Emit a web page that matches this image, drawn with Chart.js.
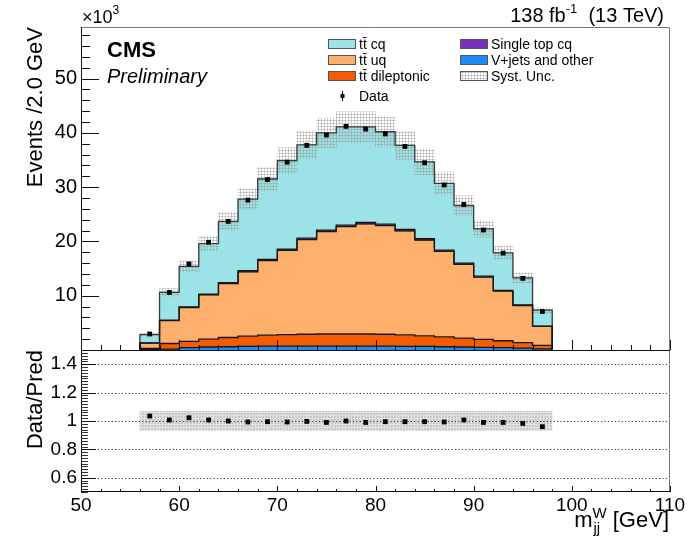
<!DOCTYPE html>
<html>
<head>
<meta charset="utf-8">
<script src="https://cdn.jsdelivr.net/npm/chart.js@4.4.1/dist/chart.umd.min.js"></script>
<style>
  html, body { margin: 0; padding: 0; background: #fff; }
  #wrap { position: relative; width: 689px; height: 540px; }
  #ratioChart { position: absolute; left: 0; top: 340px; }
  #mainChart { position: absolute; left: 0; top: 0; }
</style>
</head>
<body>
<div id="wrap">
  <canvas id="ratioChart" width="689" height="200"></canvas>
  <canvas id="mainChart" width="689" height="360"></canvas>
</div>
<script>
Chart.defaults.font.family = '"Liberation Sans", Arial, Helvetica, sans-serif';
Chart.defaults.color = '#000';

// --------------------------
// DATA (events in units of 10^3, bins of 2 GeV)
// --------------------------
const binCenters = [57, 59, 61, 63, 65, 67, 69, 71, 73, 75, 77, 79, 81, 83, 85, 87, 89, 91, 93, 95, 97];
const binWidth = 2;

const xTickVals = [50, 60, 70, 80, 90, 100, 110];
const yTickVals = [10, 20, 30, 40, 50];
const ratioTickVals = [0.6, 0.8, 1, 1.2, 1.4];

const seriesNames = ['tt\u0304 cq', 'tt\u0304 uq', 'tt\u0304 dileptonic', 'Single top cq', 'V+jets and other', 'Syst. Unc.', 'Data'];

// stack, from bottom to top
const vjets     = [0.05, 0.15, 0.45, 0.55, 0.6, 0.65, 0.7, 0.7, 0.72, 0.72, 0.72, 0.72, 0.7, 0.68, 0.65, 0.6, 0.55, 0.5, 0.42, 0.35, 0.2];
const ttDilep   = [0.25, 1.05, 1.15, 1.45, 1.7, 1.9, 2.05, 2.15, 2.18, 2.23, 2.23, 2.23, 2.2, 2.12, 1.95, 1.8, 1.65, 1.45, 1.28, 1.0, 0.65];
const ttUq      = [0.98, 4.22, 6.23, 8.15, 9.93, 11.85, 13.73, 15.51, 17.44, 18.87, 19.77, 20.27, 20.02, 19.14, 17.66, 15.78, 13.6, 11.48, 9.16, 6.85, 3.5];
const singleTop = [0.02, 0.08, 0.12, 0.15, 0.17, 0.2, 0.22, 0.24, 0.26, 0.28, 0.28, 0.28, 0.28, 0.26, 0.24, 0.22, 0.2, 0.17, 0.14, 0.1, 0.05];
const ttCq      = [1.55, 5.1, 7.45, 9.3, 11.3, 13.2, 14.8, 16.3, 17.2, 17.9, 18.1, 17.6, 17.0, 15.5, 14.15, 12.3, 10.6, 8.7, 6.9, 5.0, 2.93];

const dataVals  = [2.95, 10.6, 15.85, 19.85, 23.7, 27.6, 31.4, 34.6, 37.7, 39.6, 41.2, 40.7, 39.8, 37.5, 34.5, 30.4, 26.8, 22.1, 17.85, 13.2, 7.09];
const ratioVals = [1.035, 1.007, 1.023, 1.007, 1.0, 0.993, 0.995, 0.993, 0.997, 0.99, 1.0, 0.99, 0.995, 0.995, 0.995, 0.993, 1.007, 0.99, 0.99, 0.983, 0.96];
const systUnc   = [0.068, 0.068, 0.068, 0.068, 0.068, 0.068, 0.068, 0.068, 0.068, 0.068, 0.068, 0.068, 0.068, 0.068, 0.068, 0.068, 0.068, 0.068, 0.068, 0.068, 0.068];

// colours
const colCq = '#9be3e6';
const colUq = '#fdb06b';
const colDilep = '#f55c00';
const colSt = '#7a2fbf';
const colV = '#1a8cff';
const FONT = '"Liberation Sans", Arial, Helvetica, sans-serif';

// --------------------------
// build stack
// --------------------------
const nBins = binCenters.length;
const layers = [vjets, ttDilep, ttUq, singleTop, ttCq];
const layerColors = [colV, colDilep, colUq, colSt, colCq];
const cum = [];
let running = binCenters.map(() => 0);
layers.forEach(arr => {
  running = running.map((v, i) => v + arr[i]);
  cum.push(running);
});
const total = cum[cum.length - 1];
const lowerOf = k => (k === 0 ? binCenters.map(() => 0) : cum[k - 1]);

function floatBars(k) {
  const lo = lowerOf(k);
  return binCenters.map((x, i) => ({ x: x, y: [lo[i], cum[k][i]] }));
}

function stepOutline(tops) {
  const half = binWidth / 2;
  const pts = [{ x: binCenters[0] - half, y: 0 }];
  binCenters.forEach((x, i) => pts.push({ x: x - half, y: tops[i] }));
  pts.push({ x: binCenters[nBins - 1] + half, y: tops[nBins - 1] });
  pts.push({ x: binCenters[nBins - 1] + half, y: 0 });
  return pts;
}

function makePattern(ctx, bg, fg) {
  const c = document.createElement('canvas');
  c.width = 3; c.height = 3;
  const g = c.getContext('2d');
  if (bg) { g.fillStyle = bg; g.fillRect(0, 0, 3, 3); }
  g.fillStyle = fg;
  g.fillRect(0, 0, 3, 1);
  g.fillRect(0, 0, 1, 3);
  return ctx.createPattern(c, 'repeat');
}

const mainCtx = document.getElementById('mainChart').getContext('2d');
const ratioCtx = document.getElementById('ratioChart').getContext('2d');
const systPattern = makePattern(mainCtx, null, 'rgba(150,150,150,0.45)');
const ratioPattern = makePattern(ratioCtx, '#c9c9c9', '#e2e2e2');

// no extra label padding, so the plot areas sit exactly where we want them
function fixY(axis) {
  axis.width = 81;
  axis.paddingTop = 0;
  axis.paddingBottom = 0;
}
function fixX(axis) {
  axis.height = 48;
  axis.paddingLeft = 0;
  axis.paddingRight = 0;
}

// --------------------------
// tick helpers (ROOT style, inward)
// --------------------------
function drawYTicks(ctx, scale, left, step, len) {
  const n0 = Math.ceil(scale.min / step - 1e-6);
  const n1 = Math.floor(scale.max / step + 1e-6);
  for (let k = n0; k <= n1; k++) {
    const py = Math.round(scale.getPixelForValue(k * step)) + 0.5;
    ctx.beginPath(); ctx.moveTo(left, py); ctx.lineTo(left + len, py); ctx.stroke();
  }
}
function drawXTicks(ctx, scale, bottom, step, len) {
  const n0 = Math.ceil(scale.min / step - 1e-6);
  const n1 = Math.floor(scale.max / step + 1e-6);
  for (let k = n0; k <= n1; k++) {
    const px = Math.round(scale.getPixelForValue(k * step)) + 0.5;
    ctx.beginPath(); ctx.moveTo(px, bottom); ctx.lineTo(px, bottom - len); ctx.stroke();
  }
}

// --------------------------
// main panel
// --------------------------
const mainDecor = {
  id: 'mainDecor',
  afterDatasetsDraw(chart) {
    const { ctx, chartArea: a, scales: { x, y } } = chart;
    ctx.save();
    ctx.lineWidth = 1;
    ctx.strokeStyle = '#777';
    ctx.beginPath();
    ctx.moveTo(a.left, a.top + 0.5); ctx.lineTo(a.right - 0.5, a.top + 0.5); ctx.lineTo(a.right - 0.5, a.bottom);
    ctx.stroke();
    ctx.strokeStyle = '#111';
    ctx.beginPath();
    ctx.moveTo(a.left + 0.5, a.top); ctx.lineTo(a.left + 0.5, a.bottom);
    ctx.stroke();
    drawYTicks(ctx, y, a.left, 2, 9);
    drawYTicks(ctx, y, a.left, 10, 18);
    drawXTicks(ctx, x, a.bottom, 2, 5);
    drawXTicks(ctx, x, a.bottom, 10, 10);
    ctx.restore();
  },
  afterDraw(chart) {
    const ctx = chart.ctx;
    ctx.save();
    ctx.fillStyle = '#000';
    ctx.textBaseline = 'alphabetic';

    ctx.font = 'bold 22px ' + FONT;
    ctx.fillText('CMS', 107, 57);
    ctx.font = 'italic 20px ' + FONT;
    ctx.fillText('Preliminary', 107, 83);

    // x10^3
    ctx.font = '18px ' + FONT;
    ctx.fillText('\u00d710', 82, 23);
    const w10 = ctx.measureText('\u00d710').width;
    ctx.font = '12px ' + FONT;
    ctx.fillText('3', 82 + w10, 14);

    // lumi label
    ctx.font = '20px ' + FONT;
    const p1 = '138 fb', p3 = '  (13 TeV)';
    const w1 = ctx.measureText(p1).width, w3 = ctx.measureText(p3).width;
    ctx.font = '13px ' + FONT;
    const w2 = ctx.measureText('-1').width;
    const sx = 664 - (w1 + w2 + w3);
    ctx.font = '20px ' + FONT;
    ctx.fillText(p1, sx, 22);
    ctx.font = '13px ' + FONT;
    ctx.fillText('-1', sx + w1, 13);
    ctx.font = '20px ' + FONT;
    ctx.fillText(p3, sx + w1 + w2, 22);

    // legend
    const rows = [
      { label: seriesNames[0], fill: colCq, x: 328, y: 44 },
      { label: seriesNames[1], fill: colUq, x: 328, y: 60 },
      { label: seriesNames[2], fill: colDilep, x: 328, y: 76 },
      { label: seriesNames[3], fill: colSt, x: 460, y: 44 },
      { label: seriesNames[4], fill: colV, x: 460, y: 60 },
      { label: seriesNames[5], fill: systPattern, x: 460, y: 76 }
    ];
    ctx.font = '14px ' + FONT;
    ctx.textBaseline = 'middle';
    rows.forEach(r => {
      ctx.fillStyle = r.fill;
      ctx.fillRect(r.x, r.y - 5, 28, 10);
      ctx.strokeStyle = '#555';
      ctx.lineWidth = 1;
      ctx.strokeRect(r.x + 0.5, r.y - 4.5, 27, 9);
      ctx.fillStyle = '#000';
      ctx.fillText(r.label, r.x + 31, r.y + 1);
    });
    ctx.strokeStyle = '#000';
    ctx.beginPath(); ctx.moveTo(342.5, 91); ctx.lineTo(342.5, 101); ctx.stroke();
    ctx.fillRect(340.5, 94, 4, 4);
    ctx.fillText(seriesNames[6], 359, 97);
    ctx.restore();
  }
};

const mainDatasets = [];
layers.forEach((arr, k) => {
  mainDatasets.push({
    type: 'bar',
    data: floatBars(k),
    backgroundColor: layerColors[k],
    borderWidth: 0,
    barPercentage: 1,
    categoryPercentage: 1,
    grouped: false,
    order: 10 - k
  });
});
mainDatasets.push({
  type: 'bar',
  data: binCenters.map((x, i) => ({ x: x, y: [total[i] * (1 - systUnc[i]), total[i] * (1 + systUnc[i])] })),
  backgroundColor: systPattern,
  borderWidth: 0,
  barPercentage: 1,
  categoryPercentage: 1,
  grouped: false,
  order: 3
});
cum.forEach((tops, k) => {
  mainDatasets.push({
    type: 'line',
    data: stepOutline(tops),
    stepped: 'before',
    borderColor: k === cum.length - 1 ? '#3a3a3a' : '#161616',
    borderWidth: 1.3,
    pointRadius: 0,
    pointHoverRadius: 0,
    fill: false,
    order: 2
  });
});
mainDatasets.push({
  type: 'scatter',
  data: binCenters.map((x, i) => ({ x: x, y: dataVals[i] })),
  pointStyle: 'rect',
  pointRadius: 3.4,
  backgroundColor: '#000',
  borderWidth: 0,
  order: 0
});

new Chart(mainCtx, {
  type: 'bar',
  data: { datasets: mainDatasets },
  options: {
    responsive: false,
    animation: false,
    devicePixelRatio: 1,
    layout: { padding: { top: 27, right: 19, bottom: 10, left: 0 } },
    plugins: { legend: { display: false }, tooltip: { enabled: false } },
    scales: {
      x: {
        type: 'linear', min: 50, max: 110, offset: false, display: false
      },
      y: {
        type: 'linear', min: 0, max: 59.5,
        grid: { display: false, drawTicks: false },
        border: { display: false },
        afterBuildTicks: axis => { axis.ticks = yTickVals.map(v => ({ value: v })); },
        afterFit: fixY,
        ticks: { font: { size: 20 }, padding: 4 },
        title: {
          display: true, text: 'Events /2.0 GeV', align: 'end',
          font: { size: 22 }, padding: { top: 23, bottom: 0 }
        }
      }
    }
  },
  plugins: [mainDecor]
});

// --------------------------
// ratio panel
// --------------------------
const ratioDecor = {
  id: 'ratioDecor',
  afterDatasetsDraw(chart) {
    const { ctx, chartArea: a, scales: { x, y } } = chart;
    ctx.save();
    // dotted reference lines
    ctx.strokeStyle = '#333';
    ctx.lineWidth = 1;
    ctx.setLineDash([1.2, 2.2]);
    ratioTickVals.forEach(v => {
      const py = Math.round(y.getPixelForValue(v)) + 0.5;
      ctx.beginPath(); ctx.moveTo(a.left, py); ctx.lineTo(a.right, py); ctx.stroke();
    });
    ctx.setLineDash([]);
    // frame
    ctx.strokeStyle = '#777';
    ctx.beginPath();
    ctx.moveTo(a.right - 0.5, a.top); ctx.lineTo(a.right - 0.5, a.bottom);
    ctx.stroke();
    ctx.strokeStyle = '#111';
    ctx.beginPath();
    ctx.moveTo(a.left, a.top + 0.5); ctx.lineTo(a.right, a.top + 0.5);
    ctx.moveTo(a.left + 0.5, a.top); ctx.lineTo(a.left + 0.5, a.bottom);
    ctx.moveTo(a.left, a.bottom - 0.5); ctx.lineTo(a.right, a.bottom - 0.5);
    ctx.stroke();
    ctx.strokeStyle = '#333';
    drawYTicks(ctx, y, a.left, 0.02, 7);
    ctx.strokeStyle = '#111';
    drawYTicks(ctx, y, a.left, 0.2, 15);
    drawXTicks(ctx, x, a.bottom, 2, 3);
    drawXTicks(ctx, x, a.bottom, 10, 6);
    ctx.restore();
  },
  afterDraw(chart) {
    const ctx = chart.ctx;
    ctx.save();
    ctx.fillStyle = '#000';
    ctx.textBaseline = 'alphabetic';
    const base = 187;
    ctx.font = '22px ' + FONT;
    const wm = ctx.measureText('m').width;
    const wr = ctx.measureText(' [GeV]').width;
    ctx.font = '15px ' + FONT;
    const ws = Math.max(ctx.measureText('jj').width, ctx.measureText('W').width);
    const sx = 669 - (wm + ws + wr);
    ctx.font = '22px ' + FONT;
    ctx.fillText('m', sx, base);
    ctx.fillText(' [GeV]', sx + wm + ws, base);
    ctx.font = '15px ' + FONT;
    ctx.fillText('W', sx + wm, base - 9);
    ctx.fillText('jj', sx + wm + 1, base + 6);
    ctx.restore();
  }
};

new Chart(ratioCtx, {
  type: 'bar',
  data: {
    datasets: [
      {
        type: 'bar',
        data: binCenters.map((x, i) => ({ x: x, y: [1 - systUnc[i], 1 + systUnc[i]] })),
        backgroundColor: ratioPattern,
        borderWidth: 0,
        barPercentage: 1,
        categoryPercentage: 1,
        grouped: false,
        order: 1
      },
      {
        type: 'scatter',
        data: binCenters.map((x, i) => ({ x: x, y: ratioVals[i] })),
        pointStyle: 'rect',
        pointRadius: 3.4,
        backgroundColor: '#000',
        borderWidth: 0,
        order: 0
      }
    ]
  },
  options: {
    responsive: false,
    animation: false,
    devicePixelRatio: 1,
    layout: { padding: { top: 10, right: 19, bottom: 0, left: 0 } },
    plugins: { legend: { display: false }, tooltip: { enabled: false } },
    scales: {
      x: {
        type: 'linear', min: 50, max: 110, offset: false,
        grid: { display: false, drawTicks: false },
        border: { display: false },
        afterBuildTicks: axis => { axis.ticks = xTickVals.map(v => ({ value: v })); },
        afterFit: fixX,
        ticks: { font: { size: 19 }, padding: 2, maxRotation: 0, autoSkip: false }
      },
      y: {
        type: 'linear', min: 0.5, max: 1.5,
        grid: { display: false, drawTicks: false },
        border: { display: false },
        afterBuildTicks: axis => { axis.ticks = ratioTickVals.map(v => ({ value: v })); },
        afterFit: fixY,
        ticks: { font: { size: 19 }, padding: 4, callback: v => String(v) },
        title: {
          display: true, text: 'Data/Pred', align: 'end',
          font: { size: 22 }, padding: { top: 23, bottom: 0 }
        }
      }
    }
  },
  plugins: [ratioDecor]
});
</script>
</body>
</html>
